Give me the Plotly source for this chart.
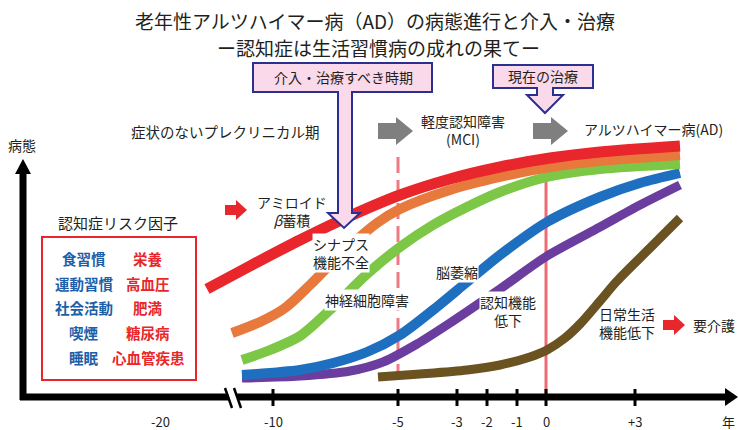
import plotly.graph_objects as go

# ---------------- data ----------------
title_line1 = "老年性アルツハイマー病（AD）の病態進行と介入・治療"
title_line2 = "ー認知症は生活習慣病の成れの果てー"

# timeline positions of the year ticks (axis is broken between -20 and -10)
tick_pos = [160, 273, 398, 457, 487, 517, 546, 635]
tick_labels = ["-20", "-10", "-5", "-3", "-2", "-1", "0", "+3"]

# disease-state curves (timeline position, plotted level; y axis runs downward)
amyloid_x = [207, 250, 300, 350, 400, 450, 500, 550, 600, 680]
amyloid_y = [289, 266, 240, 216, 195, 179, 167, 158, 152, 146]

synapse_x = [232, 260, 285, 310, 340, 377, 400, 450, 500, 550, 600, 680]
synapse_y = [333, 322, 308, 285, 255, 223, 209, 190, 177, 167, 161, 155]

neuron_x = [242, 270, 300, 333, 367, 400, 433, 467, 500, 547, 600, 680]
neuron_y = [360, 350, 336, 307, 274, 247, 225, 207, 192, 177, 169, 164]

atrophy_x = [242, 300, 333, 367, 400, 433, 467, 500, 547, 600, 640, 680]
atrophy_y = [375, 370, 363, 352, 335, 310, 282, 255, 222, 197, 183, 173]

cognition_x = [242, 300, 350, 383, 417, 450, 500, 547, 600, 640, 680]
cognition_y = [378, 376, 371, 362, 344, 323, 289, 256, 227, 205, 185]

adl_x = [378, 420, 467, 500, 530, 547, 565, 580, 600, 617, 650, 680]
adl_y = [377, 374, 370, 365, 357, 350, 338, 324, 301, 281, 248, 218]

risk_blue = ["食習慣", "運動習慣", "社会活動", "喫煙", "睡眠"]
risk_red = ["栄養", "高血圧", "肥満", "糖尿病", "心血管疾患"]

FONT = "Noto Sans CJK JP"
TXT = "#231f20"

fig = go.Figure()

curves = [
    (adl_x, adl_y, "#6b5221", 9),
    (cognition_x, cognition_y, "#6a3d9e", 9),
    (atrophy_x, atrophy_y, "#1f6fc0", 10),
    (neuron_x, neuron_y, "#7cc846", 10),
    (synapse_x, synapse_y, "#e8793c", 10),
    (amyloid_x, amyloid_y, "#e8262b", 11),
]
for xs, ys, col, w in curves:
    fig.add_trace(go.Scatter(x=xs, y=ys, mode="lines",
                             line=dict(color=col, width=w, shape="spline", smoothing=0.8),
                             hoverinfo="skip"))

shapes = []
# vertical reference lines (-5 dashed, 0 solid)
shapes.append(dict(type="line", x0=398, x1=398, y0=157, y1=385, layer="below",
                   line=dict(color="#f07a84", width=3, dash="16px,7px")))
shapes.append(dict(type="line", x0=546, x1=546, y0=180, y1=397, layer="below",
                   line=dict(color="#ef6b74", width=3)))

# axes
shapes.append(dict(type="line", x0=23, x1=23, y0=400, y1=170, line=dict(color="black", width=7)))
shapes.append(dict(type="path", path="M15,174 L23,159 L31,174 Z", fillcolor="black", line=dict(width=0)))
shapes.append(dict(type="line", x0=20, x1=728, y0=397, y1=397, line=dict(color="black", width=7)))
shapes.append(dict(type="path", path="M725,388 L738,397 L725,406 Z", fillcolor="black", line=dict(width=0)))
for p in tick_pos[1:]:
    shapes.append(dict(type="line", x0=p, x1=p, y0=389, y1=406, line=dict(color="black", width=3)))
# axis break
shapes.append(dict(type="path", path="M226,388 L235,388 L241,406 L232,406 Z", fillcolor="white", line=dict(width=0)))
shapes.append(dict(type="line", x0=225, x1=232, y0=388, y1=408, line=dict(color="black", width=2.5)))
shapes.append(dict(type="line", x0=234, x1=241, y0=388, y1=408, line=dict(color="black", width=2.5)))

# callout: intervention period
shapes.append(dict(type="path",
                   path="M253,63 L432,63 L432,92 L352,92 L352,213 L360,213 L344,228 L328,213 L338,213 L338,92 L253,92 Z",
                   fillcolor="#f9d9ea", line=dict(color="#2b2f8f", width=2)))
# callout: current treatment
shapes.append(dict(type="path",
                   path="M493,65 L593,65 L593,88 L553,88 L553,95 L563,95 L545,113 L527,95 L537,95 L537,88 L493,88 Z",
                   fillcolor="#f9d9ea", line=dict(color="#2b2f8f", width=2)))

# gray stage arrows
for x0 in (378, 533):
    shapes.append(dict(type="path",
                       path=f"M{x0},123 L{x0+18},123 L{x0+18},117 L{x0+35},131 L{x0+18},145 L{x0+18},139 L{x0},139 Z",
                       fillcolor="#7f7f7f", line=dict(width=0)))
# red arrows
for x0, yc in ((225, 210), (663, 325)):
    shapes.append(dict(type="path",
                       path=f"M{x0},{yc-5} L{x0+11},{yc-5} L{x0+11},{yc-10} L{x0+22},{yc} L{x0+11},{yc+10} L{x0+11},{yc+5} L{x0},{yc+5} Z",
                       fillcolor="#e8262b", line=dict(width=0)))
# risk factor box
shapes.append(dict(type="rect", x0=42, x1=196, y0=237, y1=380, line=dict(color="#e8262b", width=2)))

annotations = []

def txt(x, y, s, size=14, color=TXT, bg=None, xanchor="center"):
    a = dict(x=x, y=y, xref="x", yref="y", text=s, showarrow=False,
             font=dict(family=FONT, size=size, color=color), xanchor=xanchor, yanchor="middle")
    if bg:
        a["bgcolor"] = bg
        a["borderpad"] = 0
    annotations.append(a)

txt(375, 20, title_line1, size=19)
txt(378, 47, title_line2, size=19)
txt(343, 77, "介入・治療すべき時期", size=14)
txt(543, 76, "現在の治療", size=14)
txt(225, 131, "症状のないプレクリニカル期", size=14.5)
txt(463, 130, "軽度認知障害<br>(MCI)", size=14)
txt(653, 129, "アルツハイマー病(AD)", size=14)
txt(292, 211, "アミロイド<br><i>β</i>蓄積", size=14)
txt(341, 253, "シナプス<br>機能不全", size=14, bg="white")
txt(367, 300, "神経細胞障害", size=14, bg="white")
txt(457, 272, "脳萎縮", size=14, bg="white")
txt(508, 311, "認知機能<br>低下", size=14, bg="white")
txt(627, 323, "日常生活<br>機能低下", size=14)
txt(714, 325, "要介護", size=14)
txt(22, 145, "病態", size=14)
txt(118, 222, "認知症リスク因子", size=15)

row_y = [258, 283, 307, 332, 357]
for i, (b, r) in enumerate(zip(risk_blue, risk_red)):
    txt(84, row_y[i], f"<b>{b}</b>", size=14.5, color="#1d5ea8")
    txt(148, row_y[i], f"<b>{r}</b>", size=14.5, color="#e8262b")

for p, lab in zip(tick_pos, tick_labels):
    txt(p, 421, lab, size=13)
txt(728, 421, "年", size=13)

fig.update_layout(
    width=738, height=430, margin=dict(l=0, r=0, t=0, b=0),
    paper_bgcolor="white", plot_bgcolor="white", showlegend=False,
    xaxis=dict(range=[0, 738], visible=False, fixedrange=True),
    yaxis=dict(range=[430, 0], visible=False, fixedrange=True),
    shapes=shapes, annotations=annotations,
)
fig.write_html("out.html")
